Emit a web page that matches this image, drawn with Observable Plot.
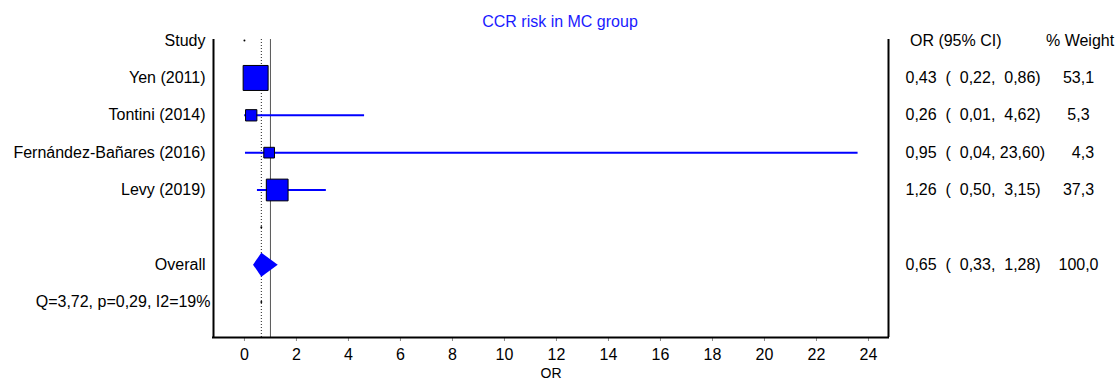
<!DOCTYPE html>
<html>
<head>
<meta charset="utf-8">
<script src="https://cdn.jsdelivr.net/npm/d3@7"></script>
<script src="https://cdn.jsdelivr.net/npm/@observablehq/plot@0.6"></script>
<style>
  html, body { margin: 0; padding: 0; background: #fff; }
  #wrap { position: relative; width: 1120px; height: 380px; overflow: hidden; }
  #title { position: absolute; left: 0; top: 14px; width: 1120px; text-align: center;
           font: 16px/16px "Liberation Sans", Arial, sans-serif; color: #1a1aff; }
  svg { display: block; }
</style>
</head>
<body>
<div id="wrap"><div id="title"></div></div>
<script>
// ---- data ----
const title = "CCR risk in MC group";
const studies = ["Yen (2011)", "Tontini (2014)", "Fernández-Bañares (2016)", "Levy (2019)"];
const studyOR = [0.43, 0.26, 0.95, 1.26];
const studyLo = [0.22, 0.01, 0.04, 0.50];
const studyHi = [0.86, 4.62, 23.60, 3.15];
const studyWeight = [53.1, 5.3, 4.3, 37.3];
const overallLabel = "Overall";
const overallOR = 0.65, overallLo = 0.33, overallHi = 1.28, overallWeight = 100.0;
const heterogeneity = "Q=3,72, p=0,29, I2=19%";
const headerLeft = "Study";
const headerOR = "OR (95% CI)";
const headerWeight = "% Weight";
const xTicks = [0, 2, 4, 6, 8, 10, 12, 14, 16, 18, 20, 22, 24];
const xLabel = "OR";
const nullValue = 1;

// ---- layout helpers ----
const xMin = -1.19, xMax = 24.77;
const yTop = -0.03, yBottom = 7.95;
const BLUE = "#0000ff";
const NB = "\u00A0";
const f2 = v => d3.format(".2f")(v).replace(".", ",");
const f1 = v => d3.format(".1f")(v).replace(".", ",");
const pad = (s, n) => s.padStart(n, NB);
const rowText = (o, l, h, w) =>
  f2(o) + NB + NB + "(" + NB + pad(f2(l), 5) + "," + NB + pad(f2(h), 5) + ")" + NB.repeat(4) + pad(f1(w), 5);

const studyRows = studies.map((s, i) => ({
  label: s, or: studyOR[i], lo: studyLo[i], hi: studyHi[i], w: studyWeight[i], row: i + 1,
  text: rowText(studyOR[i], studyLo[i], studyHi[i], studyWeight[i])
}));
const overallRow = studies.length + 2;
const hetRow = overallRow + 1;
const blankRow = overallRow - 1;

const leftLabels = [
  {row: 0, label: headerLeft},
  ...studyRows.map(d => ({row: d.row, label: d.label})),
  {row: overallRow, label: overallLabel}
];
const rightLabels = [
  {row: 0, text: NB + headerOR + NB.repeat(10) + headerWeight},
  ...studyRows.map(d => ({row: d.row, text: d.text})),
  {row: overallRow, text: rowText(overallOR, overallLo, overallHi, overallWeight)}
];
const diamondHalf = 0.32;
const diamond = [
  {x: overallLo, y: overallRow},
  {x: overallOR, y: overallRow - diamondHalf},
  {x: overallHi, y: overallRow},
  {x: overallOR, y: overallRow + diamondHalf},
  {x: overallLo, y: overallRow}
];
const markerDots = [
  {x: 0, y: 0},
  {x: overallOR, y: blankRow},
  {x: overallOR, y: hetRow}
];

const chart = Plot.plot({
  width: 1120,
  height: 380,
  marginLeft: 213,
  marginRight: 232,
  marginTop: 39,
  marginBottom: 43,
  style: {fontFamily: "'Liberation Sans', Arial, sans-serif", fontSize: "16px", color: "black", background: "white"},
  x: {domain: [xMin, xMax], axis: null},
  y: {domain: [yTop, yBottom], reverse: true, axis: null},
  r: {type: "sqrt", domain: [0, d3.max(studyWeight)], range: [2.82, 14.1]},
  marks: [
    Plot.axisX(xTicks, {tickSize: 4, tickPadding: 7, stroke: "#888", fill: "black", label: null, fontSize: 16}),
    Plot.ruleX([overallOR], {stroke: "#222", strokeWidth: 1, strokeDasharray: "1,2"}),
    Plot.ruleX([nullValue], {stroke: "#555", strokeWidth: 1}),
    Plot.ruleX([xMin, xMax], {stroke: "black", strokeWidth: 2}),
    Plot.ruleY([yBottom], {stroke: "black", strokeWidth: 2, insetLeft: -1, insetRight: -1}),
    Plot.ruleY(studyRows, {x1: "lo", x2: "hi", y: "row", stroke: BLUE, strokeWidth: 2}),
    Plot.dot(studyRows, {x: "or", y: "row", r: "w", symbol: "square", fill: BLUE, stroke: "black", strokeWidth: 1}),
    Plot.line(diamond, {x: "x", y: "y", fill: BLUE, stroke: "none"}),
    Plot.dot(markerDots, {x: "x", y: "y", r: 1, fill: "black", stroke: "none"}),
    Plot.text(leftLabels, {y: "row", text: "label", frameAnchor: "left", textAnchor: "end", dx: -8, fill: "black"}),
    Plot.text([heterogeneity], {y: () => hetRow, text: d => d, frameAnchor: "left", textAnchor: "end", dx: -3, fill: "black"}),
    Plot.text(rightLabels, {y: "row", text: "text", frameAnchor: "right", textAnchor: "start", dx: 17, fill: "black"}),
    Plot.text([xLabel], {text: d => d, frameAnchor: "bottom", lineAnchor: "bottom", dy: 40, fontSize: 14, fill: "black"})
  ]
});
document.getElementById("title").textContent = title;
document.getElementById("wrap").appendChild(chart);
</script>
</body>
</html>
